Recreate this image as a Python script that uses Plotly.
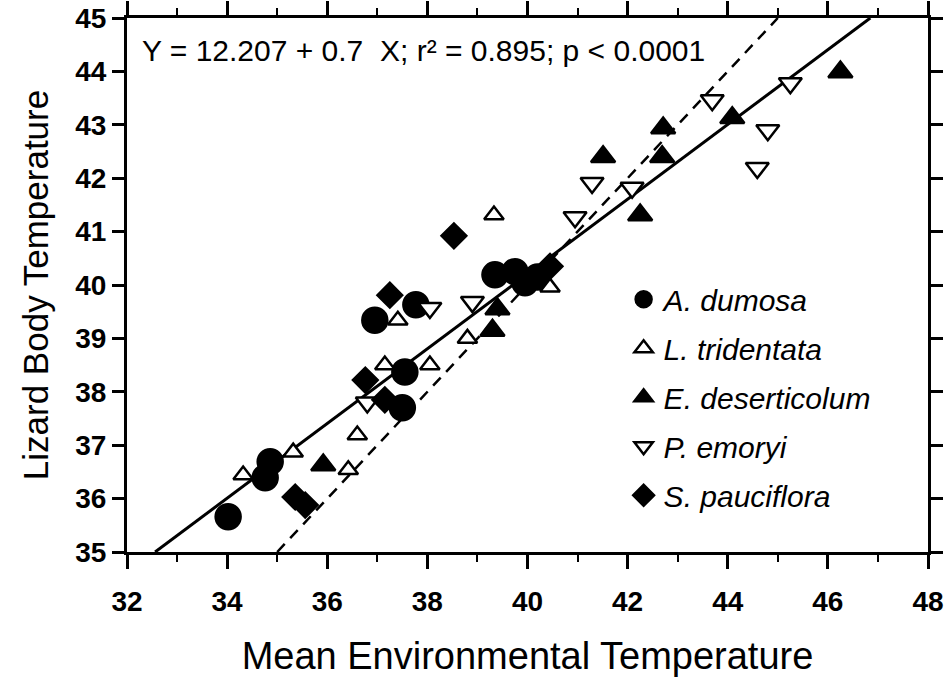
import plotly.graph_objects as go

# A. dumosa (filled circles)
ad_x = [34.02, 34.76, 34.86, 36.95, 37.77, 37.55, 37.5, 39.35, 39.75, 39.95, 40.2]
ad_y = [35.66, 36.39, 36.69, 39.34, 39.63, 38.37, 37.7, 40.19, 40.25, 40.04, 40.15]
# L. tridentata (open up-triangles)
lt_x = [34.32, 35.32, 36.42, 36.6, 37.15, 37.41, 38.05, 38.8, 39.33, 40.45]
lt_y = [36.44, 36.87, 36.54, 37.19, 38.5, 39.34, 38.5, 39.0, 41.31, 39.96]
# E. deserticolum (filled up-triangles)
ed_x = [35.92, 39.3, 39.4, 41.51, 42.25, 42.69, 42.71, 44.09, 46.25]
ed_y = [36.63, 39.15, 39.55, 42.4, 41.31, 42.4, 42.94, 43.13, 43.99]
# P. emoryi (open down-triangles)
pe_x = [36.8, 38.05, 38.9, 40.95, 41.29, 42.09, 43.69, 44.59, 44.8, 45.25]
pe_y = [37.8, 39.57, 39.68, 41.27, 41.91, 41.82, 43.46, 42.19, 42.9, 43.78]
# S. pauciflora (filled diamonds)
sp_x = [35.36, 35.56, 36.76, 37.15, 37.25, 38.53, 40.45]
sp_y = [36.03, 35.88, 38.22, 37.85, 39.81, 40.92, 40.35]

# regression: Y = 12.207 + 0.7 X
reg_a, reg_b = 12.207, 0.7
reg_x = [(35 - reg_a) / reg_b, (45 - reg_a) / reg_b]
reg_y = [reg_a + reg_b * v for v in reg_x]
# 1:1 line
one_x = [35, 45]
one_y = [35, 45]

x_ticks = [32, 34, 36, 38, 40, 42, 44, 46, 48]
y_ticks = [35, 36, 37, 38, 39, 40, 41, 42, 43, 44, 45]

FONT = "Arial, Liberation Sans"

fig = go.Figure()
fig.add_trace(go.Scatter(x=reg_x, y=reg_y, mode="lines", line=dict(color="black", width=3),
                         showlegend=False, hoverinfo="skip"))
fig.add_trace(go.Scatter(x=one_x, y=one_y, mode="lines",
                         line=dict(color="black", width=2.5, dash="11px,8px"),
                         showlegend=False, hoverinfo="skip"))

series = [
    ("<i>A. dumosa</i>", ad_x, ad_y, "circle", 25, "black"),
    ("<i>L. tridentata</i>", lt_x, lt_y, "triangle-up", 17, "white"),
    ("<i>E. deserticolum</i>", ed_x, ed_y, "triangle-up", 21, "black"),
    ("<i>P. emoryi</i>", pe_x, pe_y, "triangle-down", 20, "white"),
    ("<i>S. pauciflora</i>", sp_x, sp_y, "diamond", 19, "black"),
]
for i, (name, xs, ys, sym, sz, fc) in enumerate(series):
    fig.add_trace(go.Scatter(
        x=xs, y=ys, mode="markers", name=name, legendgroup=str(i),
        marker=dict(symbol=sym, size=sz, color=fc, line=dict(color="black", width=2.5)),
    ))

fig.add_annotation(x=(140 - 127) / 801, y=44.4, xref="paper", yref="y",
                   xanchor="left", yanchor="middle",
                   text="Y = 12.207 + 0.7  X; r² = 0.895; p < 0.0001", showarrow=False,
                   font=dict(family=FONT, size=30, color="black"))

axis_common = dict(showline=True, linecolor="black", linewidth=3, mirror="ticks",
                   ticks="outside", tickcolor="black", tickwidth=2.5, showgrid=False,
                   zeroline=False, automargin=False,
                   tickfont=dict(family=FONT, size=28, color="black", weight="bold"))

fig.update_layout(
    width=946, height=690,
    margin=dict(l=127, r=18, t=18, b=138),
    paper_bgcolor="white", plot_bgcolor="white",
    xaxis=dict(range=[32, 48], tickvals=x_ticks, ticklen=14, ticklabelstandoff=8,
               minor=dict(dtick=1, ticks="outside", ticklen=7, tickcolor="black", tickwidth=2),
               title=dict(text="Mean Environmental Temperature", standoff=27,
                          font=dict(family=FONT, size=38, color="black")),
               **axis_common),
    yaxis=dict(range=[35, 45], tickvals=y_ticks, ticklen=12,
               title=dict(text="Lizard Body Temperature", standoff=16,
                          font=dict(family=FONT, size=35, color="black")),
               **axis_common),
    legend=dict(x=0.62, y=0.522, xanchor="left", yanchor="top", bgcolor="rgba(0,0,0,0)",
                font=dict(family=FONT, size=30, color="black"),
                tracegroupgap=7, itemsizing="trace"),
    showlegend=True,
)

fig.write_html("out.html")
